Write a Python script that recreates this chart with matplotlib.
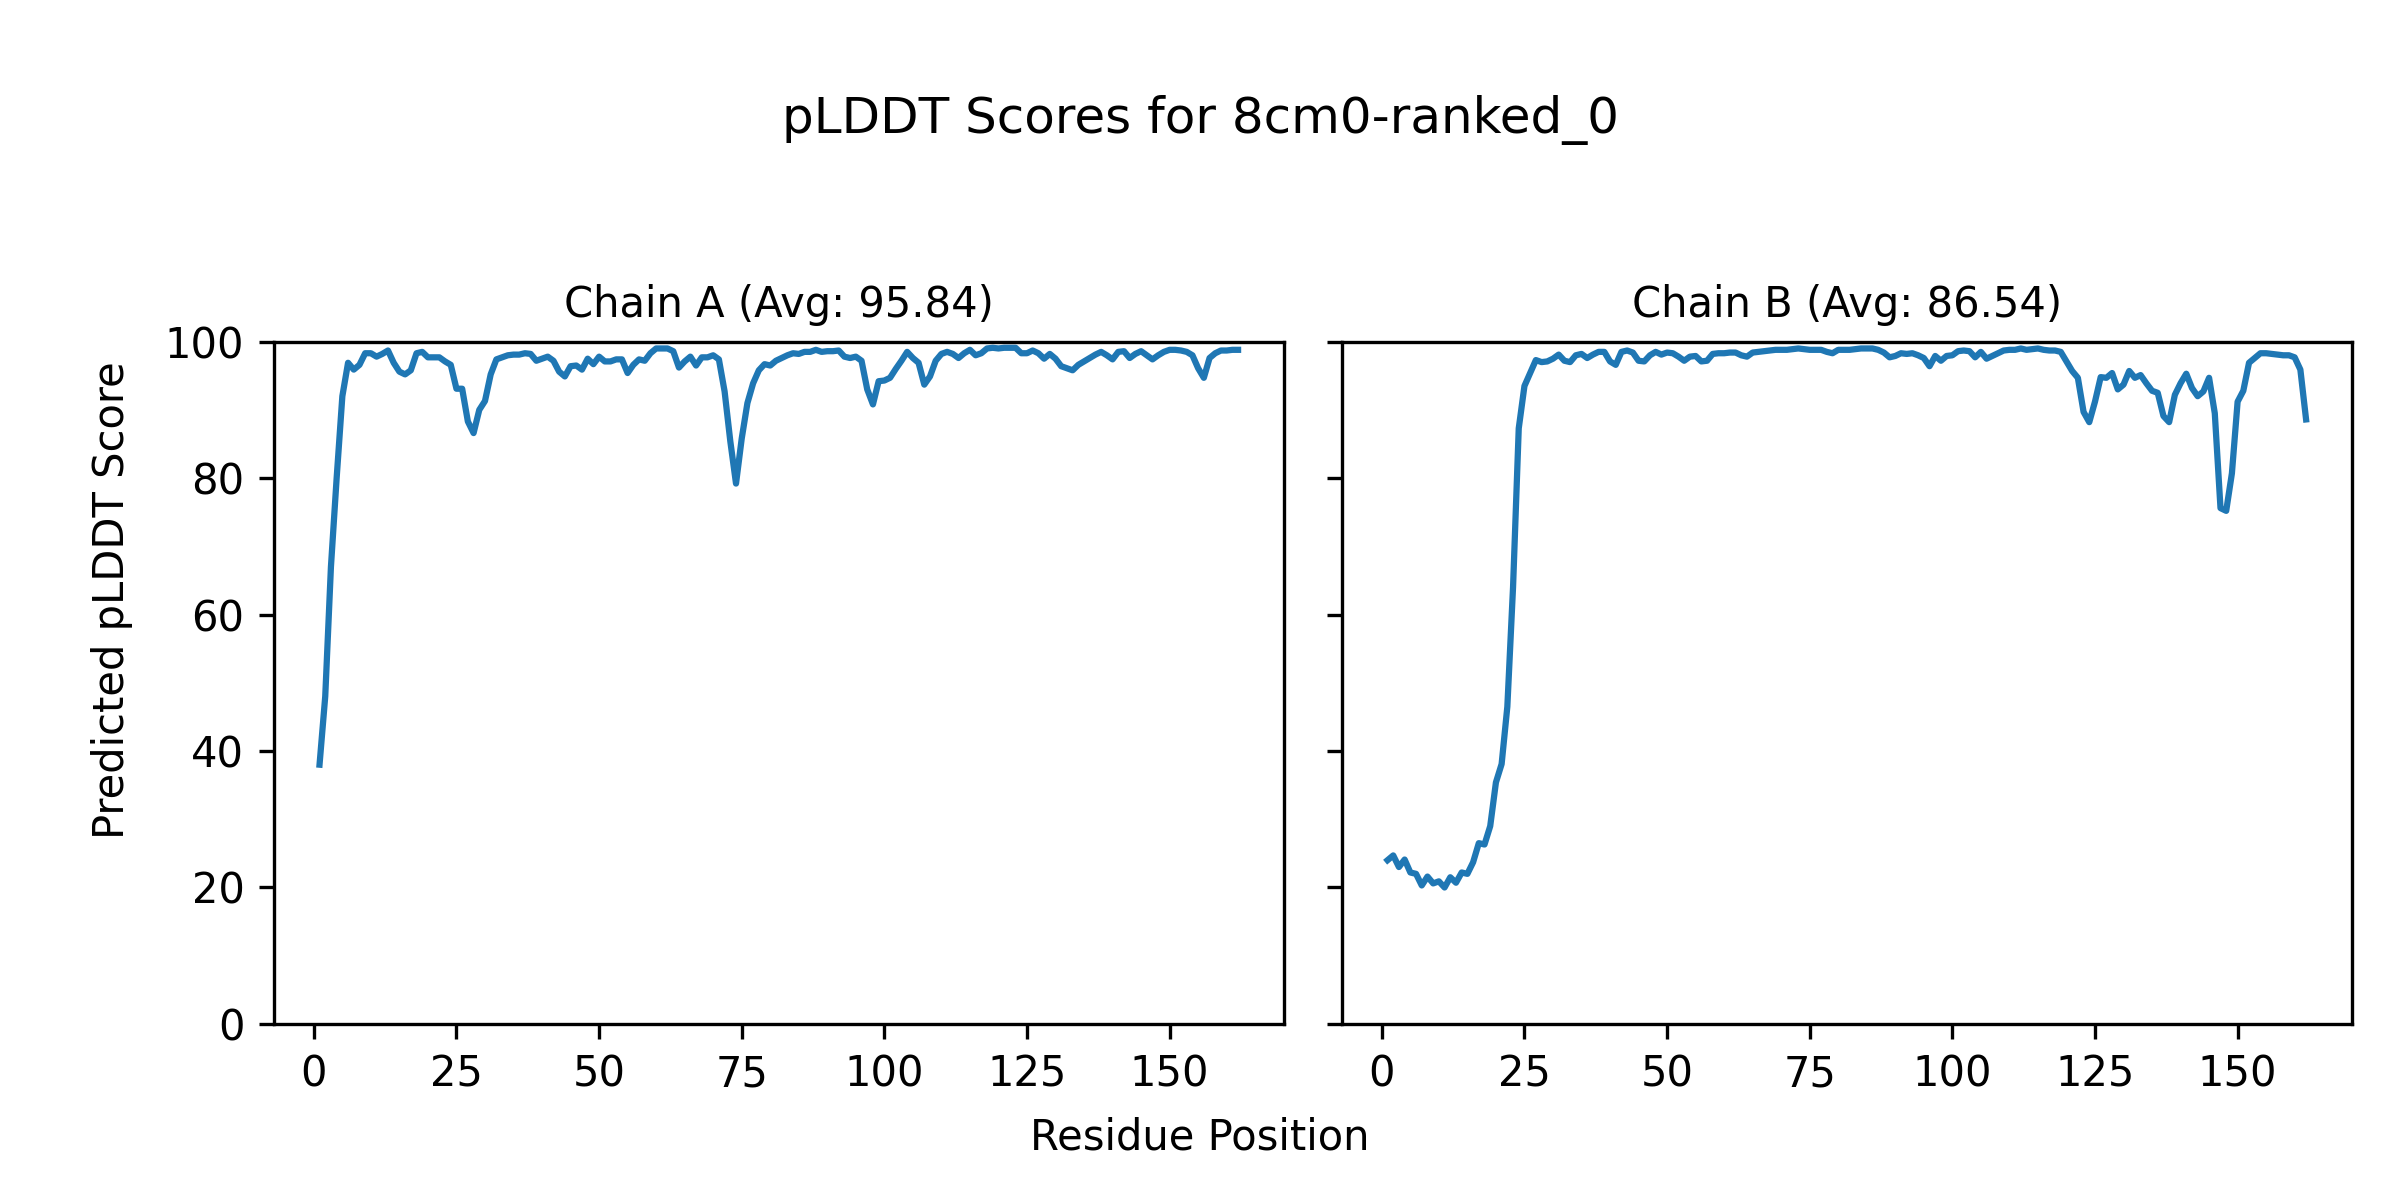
import matplotlib
matplotlib.use("Agg")
import matplotlib.pyplot as plt
import numpy as np

# pLDDT per residue
chain_a_plddt = [
    38.0, 48.0, 67.0, 80.0, 92.0, 96.9, 95.9, 96.6, 98.3, 98.3,
    97.8, 98.2, 98.7, 96.9, 95.6, 95.2, 95.8, 98.3, 98.5, 97.7,
    97.7, 97.7, 97.1, 96.6, 93.1, 93.1, 88.3, 86.6, 90.0, 91.3,
    95.2, 97.4, 97.7, 98.0, 98.1, 98.1, 98.3, 98.2, 97.2, 97.5,
    97.8, 97.2, 95.6, 94.9, 96.4, 96.5, 95.9, 97.5, 96.7, 97.8,
    97.1, 97.1, 97.4, 97.4, 95.4, 96.6, 97.4, 97.2, 98.3, 99.0,
    99.0, 99.0, 98.6, 96.2, 97.1, 97.8, 96.5, 97.7, 97.7, 98.0,
    97.4, 92.7, 85.4, 79.2, 85.8, 91.0, 93.9, 95.8, 96.7, 96.5,
    97.2, 97.6, 98.0, 98.3, 98.2, 98.5, 98.5, 98.8, 98.5, 98.6,
    98.6, 98.7, 97.8, 97.6, 97.8, 97.2, 93.0, 90.8, 94.2, 94.3,
    94.7, 96.0, 97.2, 98.5, 97.6, 96.9, 93.7, 94.9, 97.2, 98.2,
    98.5, 98.2, 97.6, 98.3, 98.8, 98.0, 98.3, 99.0, 99.1, 99.0,
    99.1, 99.1, 99.1, 98.3, 98.3, 98.7, 98.3, 97.5, 98.2, 97.5,
    96.4, 96.1, 95.8, 96.6, 97.1, 97.6, 98.1, 98.5, 98.0, 97.4,
    98.5, 98.6, 97.6, 98.2, 98.6, 98.0, 97.4, 98.0, 98.5, 98.8,
    98.8, 98.7, 98.5, 98.0, 96.1, 94.7, 97.6, 98.3, 98.7, 98.7,
    98.8, 98.8,
]

chain_b_plddt = [
    24.0, 24.7, 23.0, 24.1, 22.2, 22.0, 20.3, 21.6, 20.6, 20.9,
    20.0, 21.5, 20.7, 22.2, 22.0, 23.7, 26.5, 26.3, 29.0, 35.4,
    38.1, 46.5, 64.0, 87.3, 93.5, 95.4, 97.3, 97.0, 97.1, 97.5,
    98.1, 97.2, 97.0, 98.0, 98.2, 97.6, 98.1, 98.5, 98.5, 97.1,
    96.6, 98.5, 98.7, 98.4, 97.2, 97.1, 98.0, 98.5, 98.1, 98.4,
    98.3, 97.8, 97.2, 97.8, 97.9, 97.1, 97.2, 98.2, 98.3, 98.3,
    98.4, 98.4, 98.0, 97.8, 98.4, 98.5, 98.6, 98.7, 98.8, 98.8,
    98.8, 98.9, 99.0, 98.9, 98.8, 98.8, 98.8, 98.5, 98.3, 98.8,
    98.8, 98.8, 98.9, 99.0, 99.0, 99.0, 98.8, 98.4, 97.7, 97.9,
    98.3, 98.2, 98.3, 98.0, 97.6, 96.4, 97.9, 97.2, 97.9, 98.0,
    98.6, 98.7, 98.6, 97.7, 98.5, 97.5, 97.9, 98.3, 98.7, 98.8,
    98.8, 99.0, 98.8, 98.9, 99.0, 98.8, 98.7, 98.7, 98.5, 97.1,
    95.7, 94.7, 89.7, 88.2, 91.2, 94.8, 94.7, 95.4, 93.0, 93.7,
    95.7, 94.7, 95.1, 93.9, 92.8, 92.5, 89.1, 88.2, 92.2, 93.9,
    95.3, 93.2, 92.0, 92.7, 94.7, 89.5, 75.6, 75.2, 80.7, 91.2,
    92.8, 96.9, 97.6, 98.3, 98.3, 98.2, 98.1, 98.0, 98.0, 97.7,
    95.9, 88.6,
]

chains = ["A", "B"]
chain_avgs = ["95.84", "86.54"]
model_name = "8cm0-ranked_0"


def main() -> None:
    fig, axes = plt.subplots(1, 2, figsize=(8, 4), sharey=True)
    for ax, chain, avg, scores in zip(axes, chains, chain_avgs, [chain_a_plddt, chain_b_plddt]):
        residues = np.arange(1, len(scores) + 1)
        ax.plot(residues, scores, color="#1f77b4", linewidth=1.5)
        ax.set_title(f"Chain {chain} (Avg: {avg})", fontsize=10)
        ax.set_ylim(0, 100)
        ax.tick_params(labelsize=10)
    fig.suptitle(f"pLDDT Scores for {model_name}", fontsize=12, y=0.90, va="center")
    fig.supxlabel("Residue Position", fontsize=10, y=0.0525, va="center")
    fig.supylabel("Predicted pLDDT Score", fontsize=10, x=0.0465, ha="center")
    fig.subplots_adjust(left=0.114, right=0.98, bottom=0.1467, top=0.7153, wspace=0.057)
    fig.savefig("out.png", dpi=300)
    plt.close(fig)


if __name__ == "__main__":
    main()
